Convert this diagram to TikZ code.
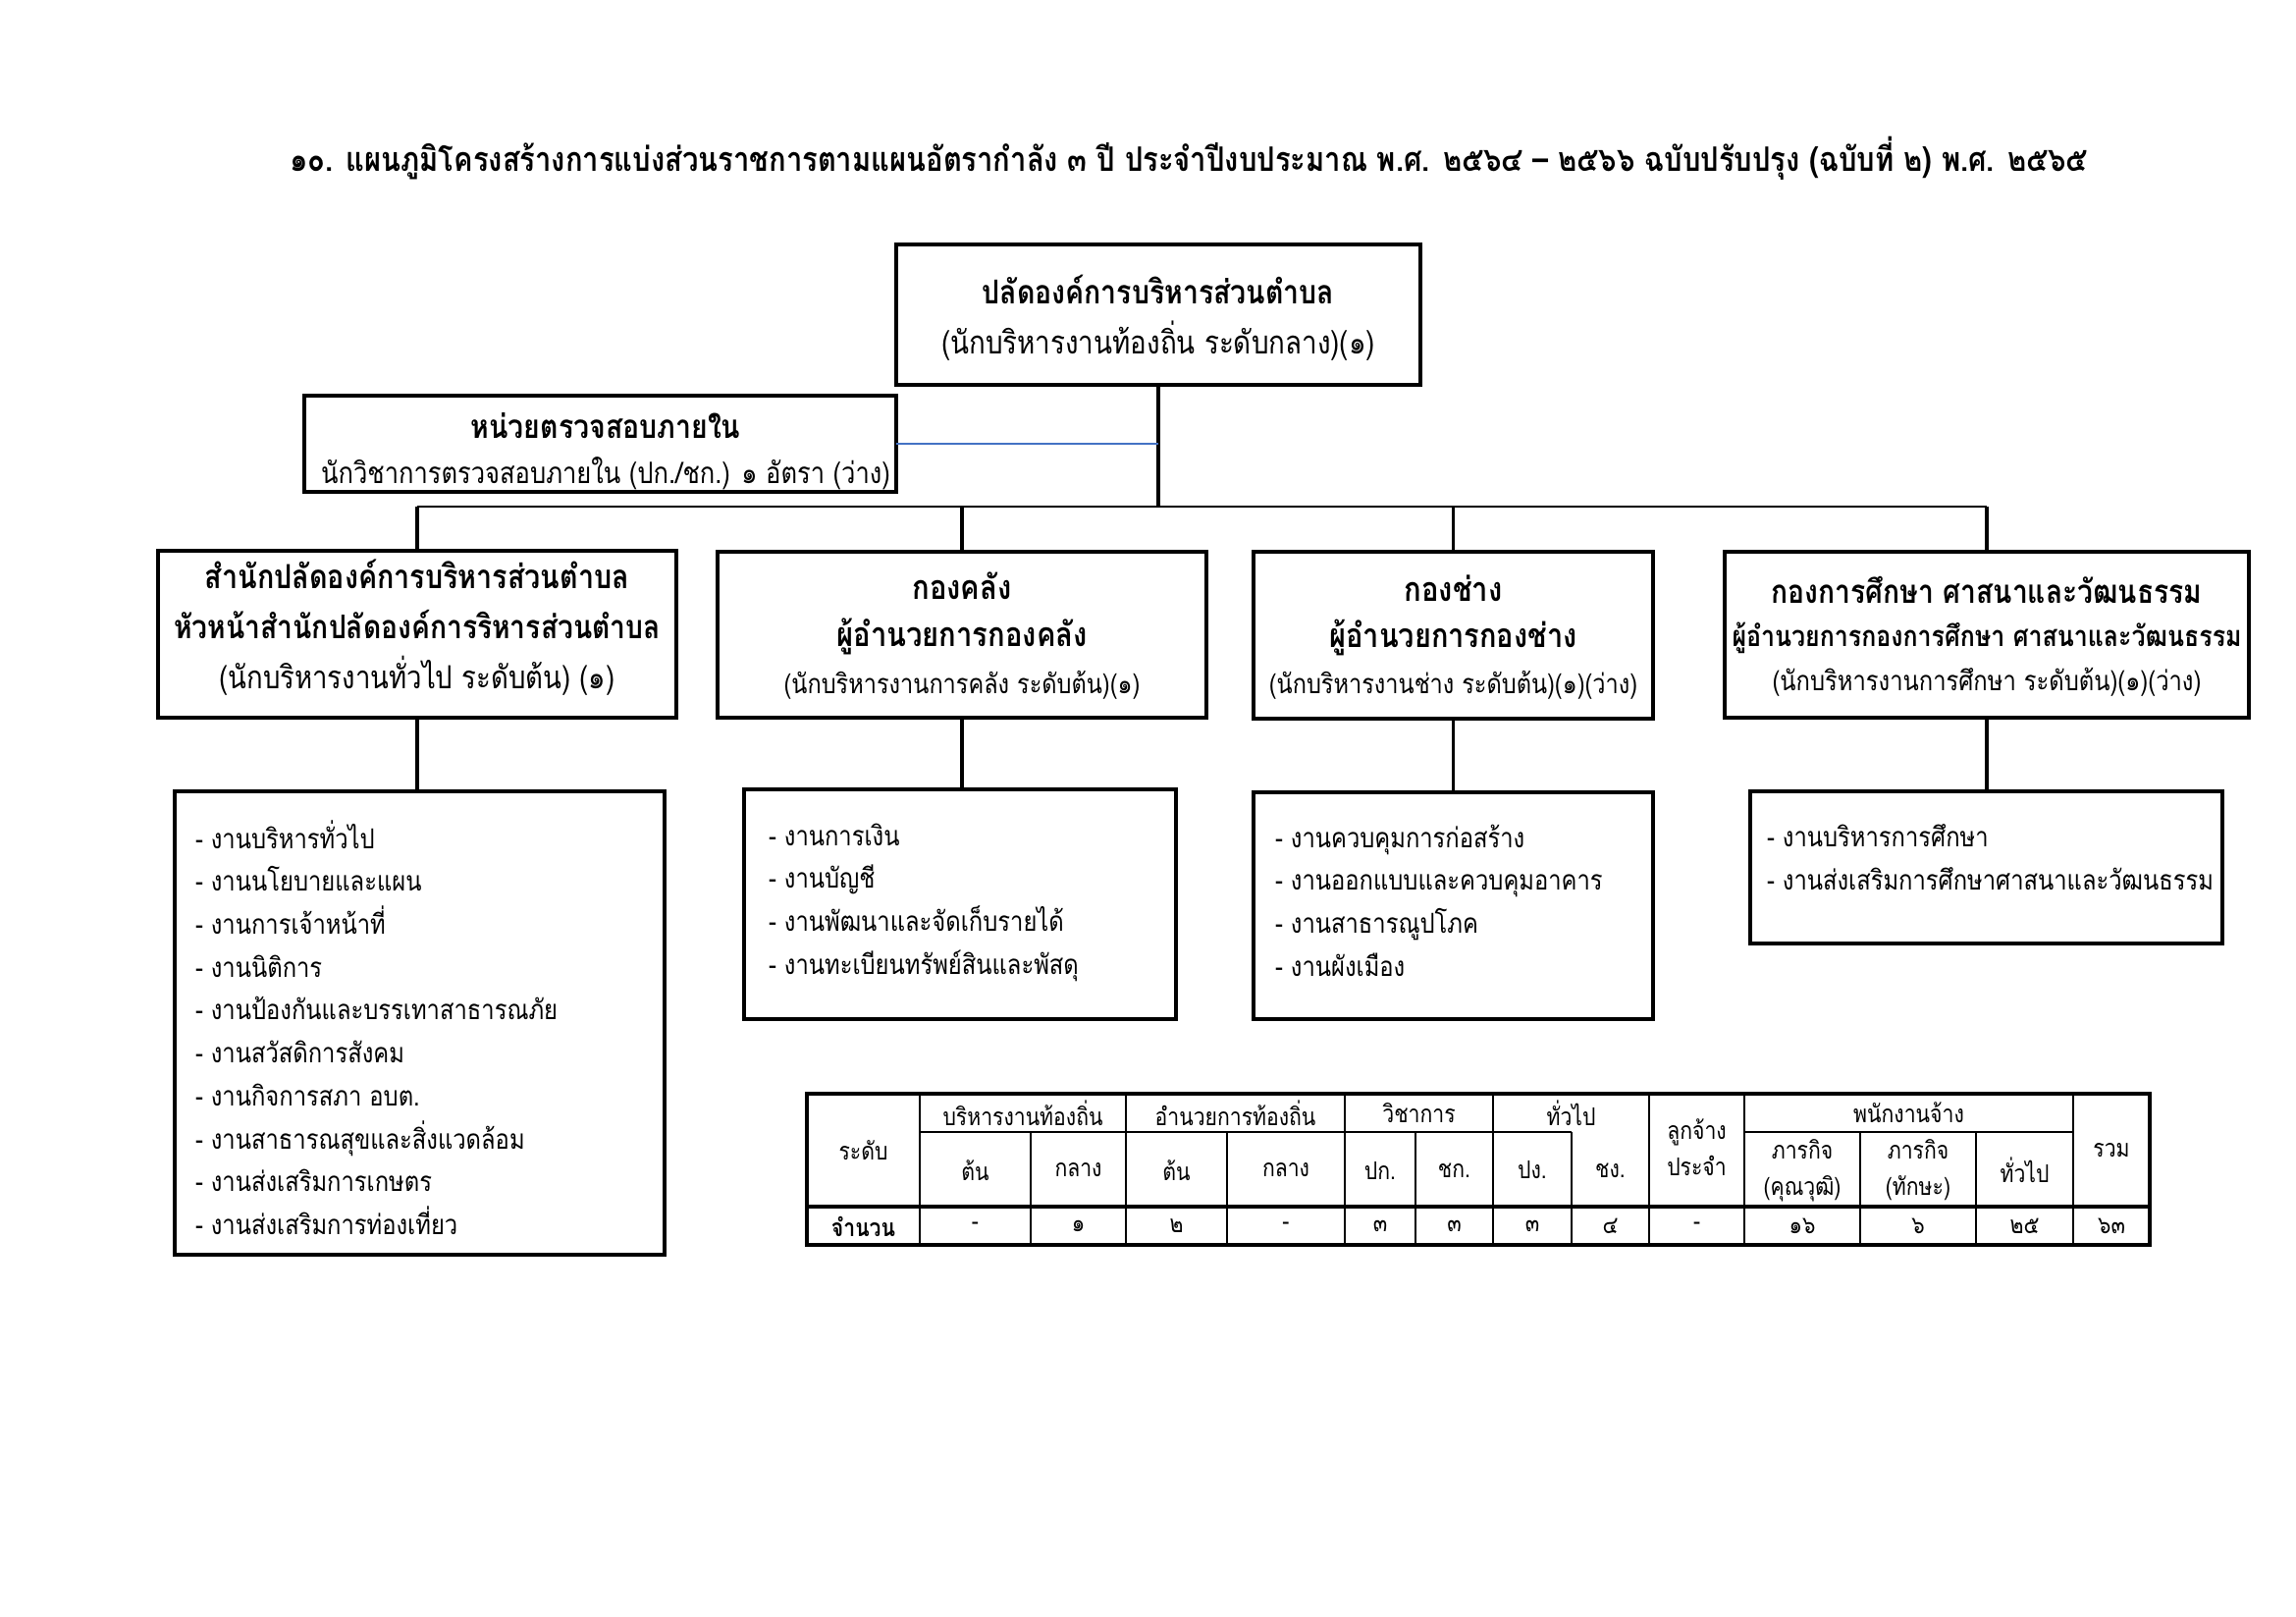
\documentclass[tikz,border=0pt]{standalone}
\usepackage{fontspec}
\usepackage{graphicx}
\setmainfont[Script=Thai]{Loma}
\definecolor{linkblue}{RGB}{68,114,196}
\newcommand\cf{0.85}
\newcommand\cx[1]{\scalebox{\cf}[1]{#1}}
\newcommand\fbig{\fontsize{10pt}{18.4pt}\selectfont}
\newcommand\flist{\fontsize{10.1pt}{15.8pt}\selectfont}
\newcommand\ftab{\fontsize{9pt}{13.3pt}\selectfont}
\newcommand\ftitle{\fontsize{12.4pt}{15pt}\selectfont\bfseries}
% bold / normal line of given size
\newcommand\lnbold[2]{\fontsize{#1pt}{18pt}\selectfont\bfseries #2}
\newcommand\lnreg[2]{\fontsize{#1pt}{18pt}\selectfont #2}
\newcommand\boxat[5]{\node[orgbox, minimum width={(#4-#2)*0.127mm}, minimum height={(#5-#3)*0.127mm}] (#1) at ({(#2+#4)/2},{(#3+#5)/2}) {};}
\newcommand\ctab[1]{\cx{\begin{tabular}{@{}c@{}}#1\end{tabular}}}
\newcommand\ltab[1]{\cx{\begin{tabular}{@{}l@{}}#1\end{tabular}}}
\tikzset{
 orgbox/.style={draw=black, line width=0.5mm, inner sep=0pt, outer sep=0pt},
 boxtxt/.style={inner sep=0pt, outer sep=0pt},
 conn/.style={line width=0.42mm},
 busline/.style={line width=0.2mm},
 blueline/.style={draw=linkblue, line width=0.22mm},
 listtxt/.style={inner sep=0pt, outer sep=0pt, anchor=west, font=\flist},
 celltxt/.style={inner sep=0pt, outer sep=0pt, font=\ftab},
 tabthin/.style={line width=0.2mm},
 tabthick/.style={line width=0.4mm},
}
\begin{document}
\begin{tikzpicture}[x=0.127mm,y=-0.127mm]
\useasboundingbox[fill=white] (0,0) rectangle (2339,1646);

% title
\node[inner sep=0pt, font=\ftitle] (title) at (1211,161) {\cx{๑๐. แผนภูมิโครงสร้างการแบ่งส่วนราชการตามแผนอัตรากำลัง ๓ ปี ประจำปีงบประมาณ พ.ศ. ๒๕๖๔ – ๒๕๖๖ ฉบับปรับปรุง (ฉบับที่ ๒) พ.ศ. ๒๕๖๕}};

% boxes
\boxat{top}{913}{249}{1447}{392}
\boxat{audit}{310}{403}{913}{501}
\boxat{A}{161}{561}{689}{731}
\boxat{B}{731}{562}{1229}{731}
\boxat{C}{1277}{562}{1684}{732}
\boxat{D}{1757}{562}{2291}{731}
\boxat{LA}{178}{806}{677}{1278}
\boxat{LB}{758}{804}{1198}{1038}
\boxat{LC}{1277}{807}{1684}{1038}
\boxat{LD}{1783}{806}{2264}{961}

% box texts
\node[boxtxt, font=\fbig] (topT) at (1180,325) {\ctab{\lnbold{12.1}{ปลัดองค์การบริหารส่วนตำบล}\\ \lnreg{11.8}{(นักบริหารงานท้องถิ่น ระดับกลาง)(๑)}}};
\node[boxtxt, font=\fontsize{10pt}{16.6pt}\selectfont] (auditT) at (617,460) {\ctab{\lnbold{12.1}{หน่วยตรวจสอบภายใน}\\ \lnreg{10.85}{นักวิชาการตรวจสอบภายใน (ปก./ชก.) ๑ อัตรา (ว่าง)}}};
\node[boxtxt, font=\fbig] (AT) at (425,640) {\ctab{\lnbold{12.2}{สำนักปลัดองค์การบริหารส่วนตำบล}\\ \lnbold{12}{หัวหน้าสำนักปลัดองค์การริหารส่วนตำบล}\\ \lnreg{11.7}{(นักบริหารงานทั่วไป ระดับต้น) (๑)}}};
\node[boxtxt, font=\fontsize{10pt}{17.3pt}\selectfont] (BT) at (980,649) {\ctab{\lnbold{12.4}{กองคลัง}\\ \lnbold{12.4}{ผู้อำนวยการกองคลัง}\\ \lnreg{10}{(นักบริหารงานการคลัง ระดับต้น)(๑)}}};
\node[boxtxt, font=\fontsize{10pt}{17.1pt}\selectfont] (CT) at (1480.5,650) {\ctab{\lnbold{12.4}{กองช่าง}\\ \lnbold{12.3}{ผู้อำนวยการกองช่าง}\\ \lnreg{10}{(นักบริหารงานช่าง ระดับต้น)(๑)(ว่าง)}}};
\node[boxtxt, font=\fontsize{10pt}{16pt}\selectfont] (DT) at (2024,650) {\ctab{\lnbold{12}{กองการศึกษา ศาสนาและวัฒนธรรม}\\ \lnbold{10.6}{ผู้อำนวยการกองการศึกษา ศาสนาและวัฒนธรรม}\\ \lnreg{10.1}{(นักบริหารงานการศึกษา ระดับต้น)(๑)(ว่าง)}}};

% lists
\node[listtxt] (tA) at (199,1052) {\ltab{- งานบริหารทั่วไป\\ - งานนโยบายและแผน\\ - งานการเจ้าหน้าที่\\ - งานนิติการ\\ - งานป้องกันและบรรเทาสาธารณภัย\\ - งานสวัสดิการสังคม\\ - งานกิจการสภา อบต.\\ - งานสาธารณสุขและสิ่งแวดล้อม\\ - งานส่งเสริมการเกษตร\\ - งานส่งเสริมการท่องเที่ยว}};
\node[listtxt] (tB) at (783,918) {\ltab{- งานการเงิน\\ - งานบัญชี\\ - งานพัฒนาและจัดเก็บรายได้\\ - งานทะเบียนทรัพย์สินและพัสดุ}};
\node[listtxt] (tC) at (1299,920) {\ltab{- งานควบคุมการก่อสร้าง\\ - งานออกแบบและควบคุมอาคาร\\ - งานสาธารณูปโภค\\ - งานผังเมือง}};
\node[listtxt] (tD) at (1800,876) {\ltab{- งานบริหารการศึกษา\\ - งานส่งเสริมการศึกษาศาสนาและวัฒนธรรม}};

% connectors
\coordinate (j0) at (top.south |- 0,516);
\coordinate (jA) at (A.north |- j0);
\coordinate (jB) at (B.north |- j0);
\coordinate (jC) at (C.north |- j0);
\coordinate (jD) at (D.north |- j0);
\coordinate (ja) at (audit.east -| top.south);
\draw[conn] (top.south) -- (j0);
\draw[busline] (jA) -- (jD);
\draw[conn] (jA) -- (A.north);
\draw[conn] (jB) -- (B.north);
\draw[conn] (jC) -- (C.north);
\draw[conn] (jD) -- (D.north);
\draw[blueline] (audit.east) -- (ja);
\draw[conn] (A.south) -- (A.south |- LA.north);
\draw[conn] (B.south) -- (B.south |- LB.north);
\draw[conn] (C.south) -- (C.south |- LC.north);
\draw[conn] (D.south) -- (D.south |- LD.north);

% table
\def\ya{1114}\def\yb{1153}\def\yc{1229}\def\yd{1268}
\draw[tabthin] (937,\yb) -- (1601,\yb);
\draw[tabthin] (1777,\yb) -- (2112,\yb);
\foreach \c in {937,1147,1370,1521,1680,1777,2112}{\draw[tabthin] (\c,\ya) -- (\c,\yd);}
\foreach \c in {1050,1250,1442,1601,1895,2013}{\draw[tabthin] (\c,\yb) -- (\c,\yd);}
\draw[tabthick] (822,\yc) -- (2190,\yc);
\draw[tabthick] (822,\ya) rectangle (2190,\yd);

\node[celltxt] (h0) at (879.5,1171.5) {\cx{ระดับ}};
\node[celltxt] (h1) at (1042,1133.5) {\cx{บริหารงานท้องถิ่น}};
\node[celltxt] (h2) at (1258.5,1133.5) {\cx{อำนวยการท้องถิ่น}};
\node[celltxt] (h3) at (1445.5,1133.5) {\cx{วิชาการ}};
\node[celltxt] (h4) at (1600.5,1133.5) {\cx{ทั่วไป}};
\node[celltxt] (h5) at (1728.5,1172) {\ctab{ลูกจ้าง\\ประจำ}};
\node[celltxt] (h6) at (1944.5,1133.5) {\cx{พนักงานจ้าง}};
\node[celltxt] (h7) at (2151,1171.5) {\cx{รวม}};
\node[celltxt] (s1) at (993.5,1192) {\cx{ต้น}};
\node[celltxt] (s2) at (1098.5,1192) {\cx{กลาง}};
\node[celltxt] (s3) at (1198.5,1192) {\cx{ต้น}};
\node[celltxt] (s4) at (1310,1192) {\cx{กลาง}};
\node[celltxt] (s5) at (1406,1192) {\cx{ปก.}};
\node[celltxt] (s6) at (1481.5,1192) {\cx{ชก.}};
\node[celltxt] (s7) at (1561,1192) {\cx{ปง.}};
\node[celltxt] (s8) at (1640.5,1192) {\cx{ชง.}};
\node[celltxt] (s9) at (1836,1192) {\ctab{ภารกิจ\\(คุณวุฒิ)}};
\node[celltxt] (s10) at (1954,1192) {\ctab{ภารกิจ\\(ทักษะ)}};
\node[celltxt] (s11) at (2062.5,1192) {\cx{ทั่วไป}};
\node[celltxt] (d0) at (879.5,1249) {\cx{\bfseries จำนวน}};
\node[celltxt] (d1) at (993.5,1249) {\cx{-}};
\node[celltxt] (d2) at (1098.5,1249) {\cx{๑}};
\node[celltxt] (d3) at (1198.5,1249) {\cx{๒}};
\node[celltxt] (d4) at (1310,1249) {\cx{-}};
\node[celltxt] (d5) at (1406,1249) {\cx{๓}};
\node[celltxt] (d6) at (1481.5,1249) {\cx{๓}};
\node[celltxt] (d7) at (1561,1249) {\cx{๓}};
\node[celltxt] (d8) at (1640.5,1249) {\cx{๔}};
\node[celltxt] (d9) at (1728.5,1249) {\cx{-}};
\node[celltxt] (d10) at (1836,1249) {\cx{๑๖}};
\node[celltxt] (d11) at (1954,1249) {\cx{๖}};
\node[celltxt] (d12) at (2062.5,1249) {\cx{๒๕}};
\node[celltxt] (d13) at (2151,1249) {\cx{๖๓}};
\end{tikzpicture}
\end{document}
